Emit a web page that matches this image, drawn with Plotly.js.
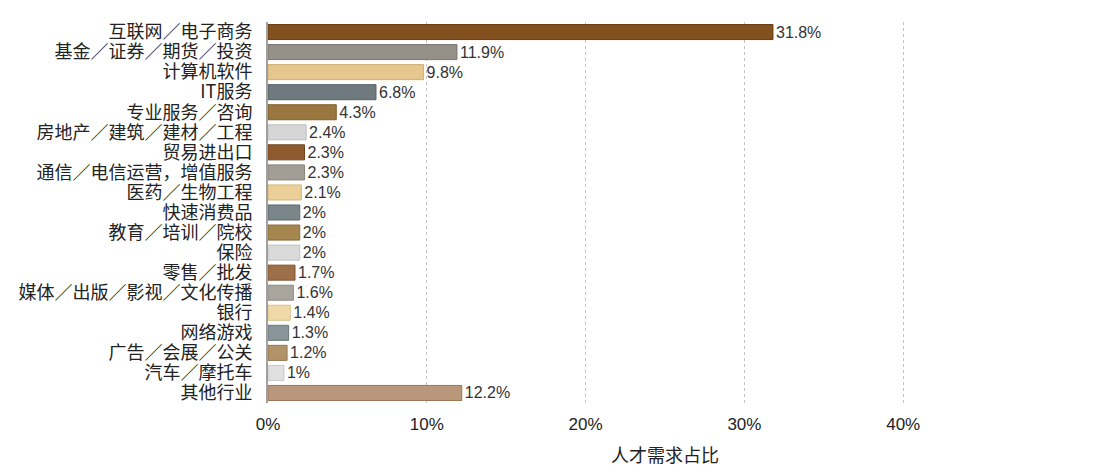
<!DOCTYPE html>
<html>
<head>
<meta charset="utf-8">
<script src="https://cdn.plot.ly/plotly-3.0.1.min.js"></script>
<style>
  html, body { margin: 0; padding: 0; background: #fff; }
  #chart { width: 1096px; height: 476px; }
</style>
</head>
<body>
<div id="chart"></div>
<script>
// industries, top to bottom
var industries = [
  '互联网／电子商务', '基金／证券／期货／投资', '计算机软件', 'IT服务',
  '专业服务／咨询', '房地产／建筑／建材／工程', '贸易进出口',
  '通信／电信运营，增值服务', '医药／生物工程', '快速消费品',
  '教育／培训／院校', '保险', '零售／批发', '媒体／出版／影视／文化传播',
  '银行', '网络游戏', '广告／会展／公关', '汽车／摩托车', '其他行业'
];

// share of talent demand, percent
var share = [31.8, 11.9, 9.8, 6.8, 4.3, 2.4, 2.3, 2.3, 2.1, 2, 2, 2, 1.7, 1.6, 1.4, 1.3, 1.2, 1, 12.2];

var xTicks = [0, 10, 20, 30, 40];
var xTickText = xTicks.map(function (t) { return t + '%'; });

var barColors = [
  '#83511f', '#948f87', '#e6c88e', '#6f7a7e', '#9a773f', '#d6d6d6',
  '#8f5b2e', '#a29e96', '#ebcf99', '#7b868b', '#a5864f', '#dadada',
  '#9e7049', '#a9a59e', '#f0d9a9', '#8a959a', '#b09368', '#e0e0e0', '#b8977a'
];
var edgeColors = [
  '#6a3d12', '#7c776f', '#cfae70', '#555f63', '#7f5f2c', '#bdbdbd',
  '#6f4320', '#88847c', '#d5b67c', '#5f696d', '#8a6d38', '#c2c2c2',
  '#80542f', '#8f8b84', '#d9bf8a', '#6c777b', '#94764d', '#c6c6c6', '#9a7656'
];

var labels = share.map(function (v) { return v + '%'; });

var data = [{
  type: 'bar',
  orientation: 'h',
  y: industries,
  x: share,
  text: labels,
  textposition: 'outside',
  constraintext: 'none',
  cliponaxis: false,
  textfont: { family: 'Liberation Sans, Arial, sans-serif', size: 16, color: '#333' },
  marker: { color: barColors, line: { color: edgeColors, width: 1 } },
  hoverinfo: 'y+text'
}];

var layout = {
  width: 1096,
  height: 476,
  margin: { l: 268, r: 34, t: 22, b: 73 },
  paper_bgcolor: '#fff',
  plot_bgcolor: '#fff',
  bargap: 0.25,
  showlegend: false,
  font: { family: 'Noto Sans CJK SC, sans-serif', color: '#222' },
  xaxis: {
    range: [0, 50],
    tickmode: 'array',
    tickvals: xTicks,
    ticktext: xTickText,
    showgrid: true,
    gridcolor: '#c4c4c4',
    griddash: 'dot',
    gridwidth: 1,
    zeroline: false,
    showline: false,
    ticks: '',
    ticklabelstandoff: 9,
    tickfont: { family: 'Liberation Sans, Arial, sans-serif', size: 17, color: '#222' },
    title: { text: '人才需求占比', font: { size: 18, color: '#222' }, standoff: 16 }
  },
  yaxis: {
    autorange: 'reversed',
    tickmode: 'array',
    tickvals: industries,
    ticktext: industries,
    showline: true,
    linecolor: '#a0a0a0',
    linewidth: 2,
    ticks: '',
    ticklabelstandoff: 10,
    tickfont: { size: 18, color: '#222' },
    showgrid: false
  }
};

Plotly.newPlot('chart', data, layout, { displayModeBar: false, staticPlot: true });
</script>
</body>
</html>
